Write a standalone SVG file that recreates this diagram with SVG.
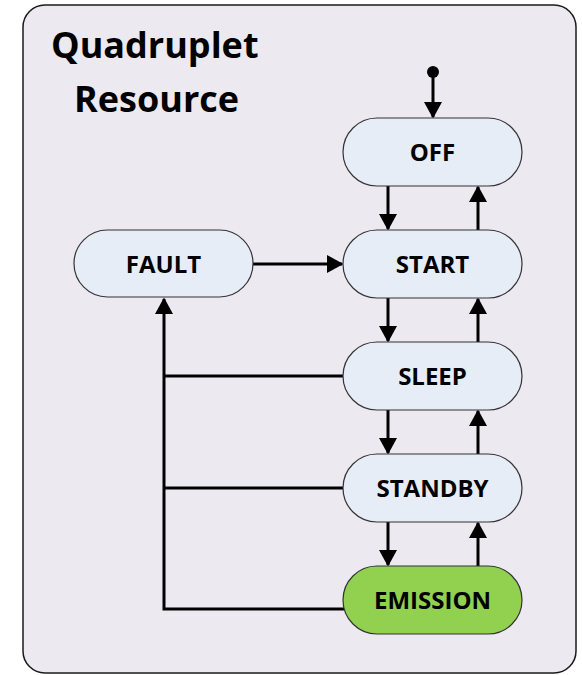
<svg xmlns="http://www.w3.org/2000/svg" width="582" height="675" viewBox="0 0 582 675">
  <style>
    .frame { fill: #ECE9F0; stroke: #1a1a1a; stroke-width: 1.5; }
    .state { fill: #E6EDF7; stroke: #333333; stroke-width: 1.2; }
    .active { fill: #92D050; }
    .label { font-family: "Open Sans", "DejaVu Sans", sans-serif; font-weight: bold; font-size: 24px; fill: #000; text-anchor: middle; }
    .title { font-family: "Open Sans", "DejaVu Sans", sans-serif; font-weight: bold; font-size: 36px; fill: #000; }
    .wire { fill: none; stroke: #000; stroke-width: 3; }
  </style>
  <defs>
    <marker id="head" markerWidth="6" markerHeight="6" refX="5" refY="3" orient="auto" markerUnits="strokeWidth">
      <path d="M0,0 L5.5,3 L0,6 Z" fill="#000"/>
    </marker>
  </defs>

  <!-- resource frame -->
  <rect class="frame" x="23" y="5" width="553" height="668" rx="22" ry="22"/>
  <text class="title" x="51" y="58">Quadruplet</text>
  <text class="title" x="74" y="112">Resource</text>

  <!-- connectors -->
  <g id="connectors">
    <circle cx="433" cy="72" r="6" fill="#000"/>
    <line class="wire" x1="433" y1="72" x2="433" y2="117" marker-end="url(#head)"/>
    <!-- downward transitions -->
    <line class="wire" x1="388" y1="186" x2="388" y2="229" marker-end="url(#head)"/>
    <line class="wire" x1="388" y1="298" x2="388" y2="341" marker-end="url(#head)"/>
    <line class="wire" x1="388" y1="410" x2="388" y2="453" marker-end="url(#head)"/>
    <line class="wire" x1="388" y1="522" x2="388" y2="565" marker-end="url(#head)"/>
    <!-- upward transitions -->
    <line class="wire" x1="478" y1="230" x2="478" y2="187" marker-end="url(#head)"/>
    <line class="wire" x1="478" y1="342" x2="478" y2="299" marker-end="url(#head)"/>
    <line class="wire" x1="478" y1="454" x2="478" y2="411" marker-end="url(#head)"/>
    <line class="wire" x1="478" y1="566" x2="478" y2="523" marker-end="url(#head)"/>
    <!-- recovery -->
    <line class="wire" x1="253" y1="264" x2="342" y2="264" marker-end="url(#head)"/>
    <!-- fault bus -->
    <path class="wire" d="M343,376 H164 M343,488 H164 M344,609 H164 V299" marker-end="url(#head)"/>
  </g>

  <g id="off">
    <rect class="state" x="343" y="118" width="179" height="68" rx="34"/>
    <text class="label" x="432.5" y="161">OFF</text>
  </g>
  <g id="start">
    <rect class="state" x="343" y="230" width="179" height="68" rx="34"/>
    <text class="label" x="432.5" y="273">START</text>
  </g>
  <g id="sleep">
    <rect class="state" x="343" y="342" width="179" height="68" rx="34"/>
    <text class="label" x="432.5" y="385">SLEEP</text>
  </g>
  <g id="standby">
    <rect class="state" x="343" y="454" width="179" height="68" rx="34"/>
    <text class="label" x="432.5" y="497">STANDBY</text>
  </g>
  <g id="emission">
    <rect class="state active" x="343" y="566" width="179" height="68" rx="34"/>
    <text class="label" x="432.5" y="609">EMISSION</text>
  </g>
  <g id="fault">
    <rect class="state" x="74" y="230" width="179" height="67" rx="33.5"/>
    <text class="label" x="163.5" y="273">FAULT</text>
  </g>
</svg>
